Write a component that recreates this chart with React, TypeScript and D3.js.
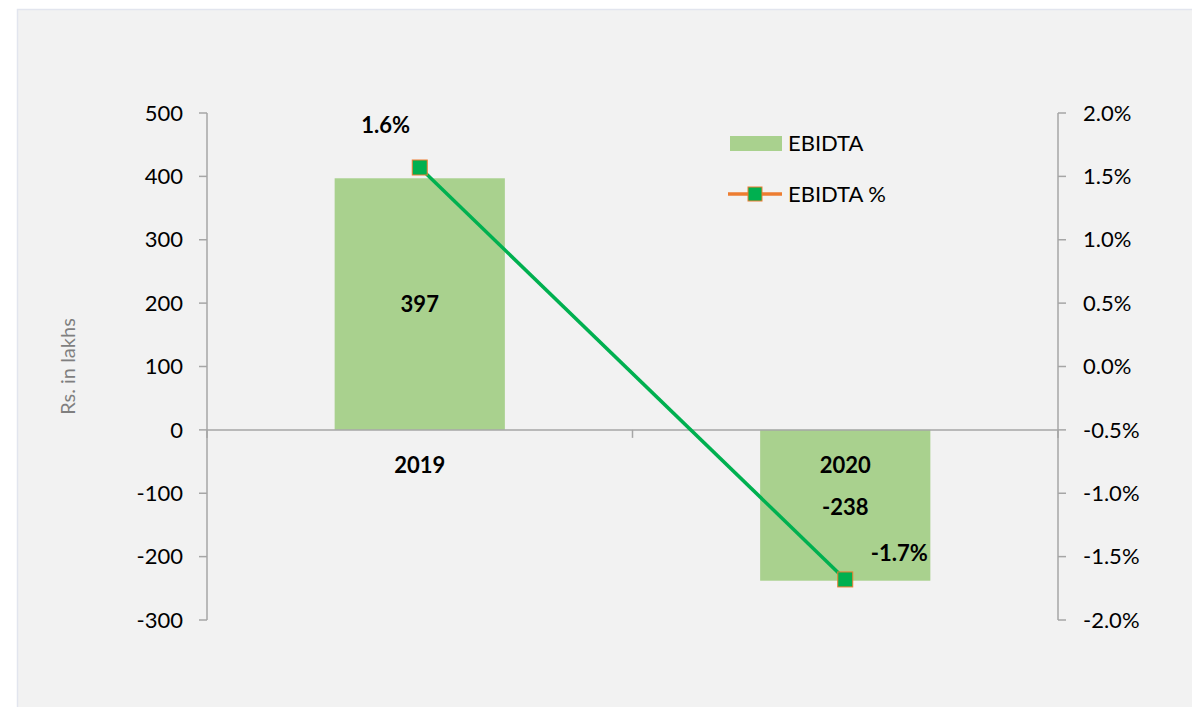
import * as d3 from "d3";

const years = ["2019", "2020"];
const ebidta = [397, -238];
const ebidtaPct = [0.0157, -0.0168];
const pctLabels = ["1.6%", "-1.7%"];
const leftTicks = [500, 400, 300, 200, 100, 0, -100, -200, -300];
const rightTicks = [0.02, 0.015, 0.01, 0.005, 0, -0.005, -0.01, -0.015, -0.02];

const W = 1192;
const H = 707;
const PLOT = { left: 207, right: 1058, top: 113, bottom: 620 };
const FONT = "Lato, 'Open Sans', sans-serif";
const AXIS = "#a6a6a6";
const FS = 22;

export default function App() {
  const xBand = d3.scaleBand().domain(years).range([PLOT.left, PLOT.right]);
  const y = d3.scaleLinear().domain([-300, 500]).range([PLOT.bottom, PLOT.top]);
  const y2 = d3.scaleLinear().domain([-0.02, 0.02]).range([PLOT.bottom, PLOT.top]);
  const fmtPct = (v: number) => d3.format(".1%")(v).replace("\u2212", "-");

  const cx = (d: string) => xBand(d)! + xBand.bandwidth() / 2;
  const barW = xBand.bandwidth() / 2.5; // gap width 150%
  const line = d3.line<number>()
    .x((_, i) => cx(years[i]))
    .y((d) => y2(d));

  const y0 = y(0);

  return (
    <svg width={W} height={H} style={{ position: "absolute", left: 0, top: 0, fontFamily: FONT }}>
      <rect x={0} y={0} width={W} height={H} fill="#ffffff" />
      <rect x={17.5} y={9.5} width={W} height={H} fill="#f2f2f2" stroke="#e2e5ee" strokeWidth={1.5} />

      {/* bars */}
      {years.map((yr, i) => (
        <rect
          key={yr}
          x={cx(yr) - barW / 2}
          width={barW}
          y={Math.min(y(ebidta[i]), y0)}
          height={Math.abs(y(ebidta[i]) - y0)}
          fill="#a9d18e"
        />
      ))}

      {/* zero axis line */}
      <line x1={PLOT.left} x2={PLOT.right} y1={y0} y2={y0} stroke={AXIS} strokeWidth={1.5} />
      {[PLOT.left, xBand(years[1])!, PLOT.right].map((v, i) => (
        <line key={i} x1={v} x2={v} y1={y0} y2={y0 + 8} stroke={AXIS} strokeWidth={1.5} />
      ))}

      {/* left axis */}
      <line x1={PLOT.left} x2={PLOT.left} y1={PLOT.top} y2={PLOT.bottom} stroke={AXIS} strokeWidth={1.5} />
      {leftTicks.map((t) => (
        <g key={t}>
          <line x1={PLOT.left - 8} x2={PLOT.left} y1={y(t)} y2={y(t)} stroke={AXIS} strokeWidth={1.5} />
          <text x={183} y={y(t)} dy="0.35em" textAnchor="end" fontSize={FS} fill="#000">
            {t}
          </text>
        </g>
      ))}

      {/* right axis */}
      <line x1={PLOT.right} x2={PLOT.right} y1={PLOT.top} y2={PLOT.bottom} stroke={AXIS} strokeWidth={1.5} />
      {rightTicks.map((t) => (
        <g key={t}>
          <line x1={PLOT.right} x2={PLOT.right + 8} y1={y2(t)} y2={y2(t)} stroke={AXIS} strokeWidth={1.5} />
          <text x={1083} y={y2(t)} dy="0.35em" textAnchor="start" fontSize={FS} fill="#000">
            {fmtPct(t)}
          </text>
        </g>
      ))}

      {/* axis title */}
      <text
        transform={`translate(68,${(PLOT.top + PLOT.bottom) / 2}) rotate(-90)`}
        textAnchor="middle"
        dy="0.35em"
        fontSize={20}
        fill="#7f7f7f"
      >
        Rs. in lakhs
      </text>

      {/* line series */}
      <path d={line(ebidtaPct)!} fill="none" stroke="#00b050" strokeWidth={3.5} />
      {ebidtaPct.map((v, i) => (
        <rect
          key={i}
          x={cx(years[i]) - 7.5}
          y={y2(v) - 7.5}
          width={15}
          height={15}
          fill="#00b050"
          stroke="#ed7d31"
          strokeWidth={1}
        />
      ))}

      {/* data labels */}
      <g fontWeight="bold" fontSize={FS} fill="#000" textAnchor="middle">
        <text x={cx(years[0]) - 34} y={125} dy="0.35em">{pctLabels[0]}</text>
        <text x={cx(years[1]) + 54} y={553} dy="0.35em">{pctLabels[1]}</text>
        <text x={cx(years[0])} y={(y(ebidta[0]) + y0) / 2} dy="0.35em">{ebidta[0]}</text>
        <text x={cx(years[1])} y={507} dy="0.35em">{ebidta[1]}</text>
        <text x={cx(years[0])} y={465} dy="0.35em">{years[0]}</text>
        <text x={cx(years[1])} y={465} dy="0.35em">{years[1]}</text>
      </g>

      {/* legend */}
      <rect x={730} y={136} width={52} height={15} fill="#a9d18e" />
      <text x={788} y={143} dy="0.35em" fontSize={FS} fill="#000">EBIDTA</text>
      <line x1={728} x2={782} y1={194} y2={194} stroke="#ed7d31" strokeWidth={3.5} />
      <rect x={748} y={187} width={14} height={14} fill="#00b050" stroke="#ed7d31" strokeWidth={1} />
      <text x={788} y={194} dy="0.35em" fontSize={FS} fill="#000">EBIDTA %</text>
    </svg>
  );
}
